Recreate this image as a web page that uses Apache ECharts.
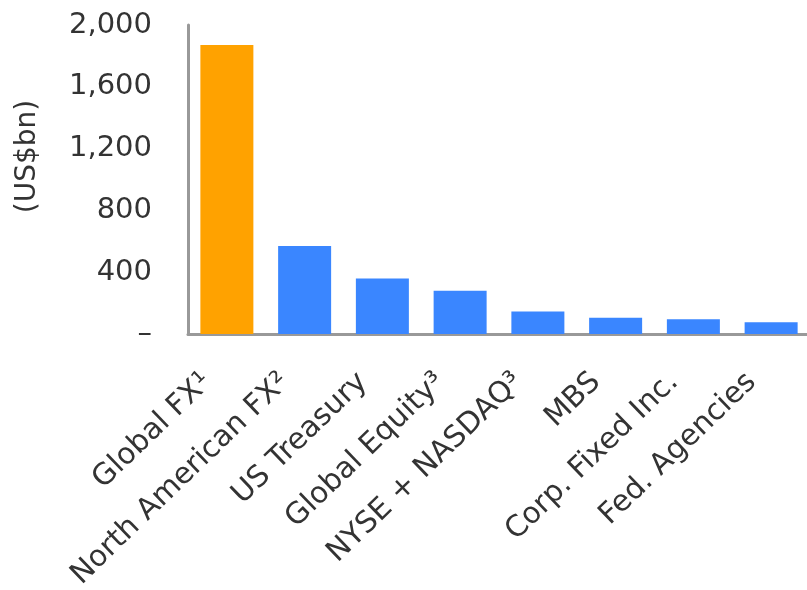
<!DOCTYPE html>
<html>
<head>
<meta charset="utf-8">
<script src="https://cdn.jsdelivr.net/npm/echarts@6/dist/echarts.min.js"></script>
<style>
  html, body { margin: 0; padding: 0; background: #fff; }
  #chart { width: 807px; height: 590px; }
</style>
</head>
<body>
<div id="chart"></div>
<script>
// categories and values (US$bn)
var categories = ['Global FX\u00b9', 'North American FX\u00b2', 'US Treasury', 'Global Equity\u00b3',
  'NYSE + NASDAQ\u00b3', 'MBS', 'Corp. Fixed Inc.', 'Fed. Agencies'];
var volumes = [1870, 570, 360, 280, 145, 105, 95, 76];
var highlightIndex = 0;

var myChart = echarts.init(document.getElementById('chart'));

var font = 'DejaVu Sans';
var textColor = '#333';
var barData = volumes.map(function (v, i) {
  return {
    value: v,
    itemStyle: { color: i === highlightIndex ? '#ffa200' : '#3a86ff' }
  };
});

var options = {
  animation: false,
  grid: {
    left: 188,
    top: 25,
    bottom: 256,
    width: 622,
    containLabel: false,
    outerBoundsMode: 'none'
  },
  xAxis: {
    type: 'category',
    data: categories,
    axisLine: { lineStyle: { color: '#999', width: 3 } },
    axisTick: { show: false },
    axisLabel: {
      rotate: 44,
      interval: 0,
      margin: 25,
      padding: [0, 27, 0, 0],
      fontFamily: font,
      fontSize: 29.5,
      color: textColor
    }
  },
  yAxis: {
    type: 'value',
    min: 0,
    max: 2000,
    interval: 400,
    name: '(US$bn)',
    nameLocation: 'middle',
    nameRotate: 90,
    nameGap: 146,
    nameTextStyle: {
      fontFamily: font,
      fontSize: 28,
      color: textColor,
      padding: [0, 0, 0, 46]
    },
    axisLine: { show: true, lineStyle: { color: '#999', width: 3 } },
    axisTick: { show: false },
    splitLine: { show: false },
    axisLabel: {
      margin: 36,
      fontFamily: font,
      fontSize: 29,
      color: textColor,
      formatter: function (v) {
        return v === 0 ? '\u2013' : v.toLocaleString('en-US');
      }
    }
  },
  series: [
    {
      type: 'bar',
      barWidth: 53,
      data: barData
    }
  ]
};

myChart.setOption(options, true);
</script>
</body>
</html>
